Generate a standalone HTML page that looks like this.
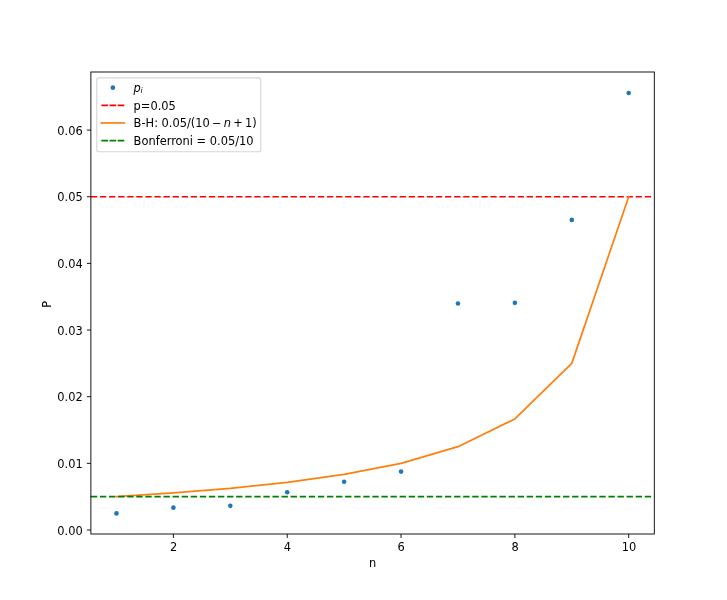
<!DOCTYPE html>
<html lang="en"><head><meta charset="utf-8"><title>p-values: B-H vs Bonferroni</title>
<style>html,body{margin:0;padding:0;background:#fff}svg{display:block}text{font-family:'DejaVu Sans','Liberation Sans',sans-serif;font-size:11.42px;fill:#000}.i{font-style:oblique}</style></head><body>
<svg width="727" height="600" viewBox="0 0 727 600">
<rect x="0" y="0" width="727" height="600" fill="#fff"/>
<path d="M173.40 534.00 v4.00" stroke="#000" stroke-width="0.91"/>
<text x="173.60" y="550.86" text-anchor="middle">2</text>
<path d="M287.22 534.00 v4.00" stroke="#000" stroke-width="0.91"/>
<text x="287.42" y="550.86" text-anchor="middle">4</text>
<path d="M401.04 534.00 v4.00" stroke="#000" stroke-width="0.91"/>
<text x="401.24" y="550.86" text-anchor="middle">6</text>
<path d="M514.87 534.00 v4.00" stroke="#000" stroke-width="0.91"/>
<text x="515.07" y="550.86" text-anchor="middle">8</text>
<path d="M628.69 534.00 v4.00" stroke="#000" stroke-width="0.91"/>
<text x="628.89" y="550.86" text-anchor="middle">10</text>
<text x="372.59" y="566.66" text-anchor="middle">n</text>
<path d="M90.88 530.00 h-4.00" stroke="#000" stroke-width="0.91"/>
<text x="82.78" y="534.50" text-anchor="end">0.00</text>
<path d="M90.88 463.35 h-4.00" stroke="#000" stroke-width="0.91"/>
<text x="82.78" y="467.85" text-anchor="end">0.01</text>
<path d="M90.88 396.70 h-4.00" stroke="#000" stroke-width="0.91"/>
<text x="82.78" y="401.20" text-anchor="end">0.02</text>
<path d="M90.88 330.05 h-4.00" stroke="#000" stroke-width="0.91"/>
<text x="82.78" y="334.55" text-anchor="end">0.03</text>
<path d="M90.88 263.40 h-4.00" stroke="#000" stroke-width="0.91"/>
<text x="82.78" y="267.90" text-anchor="end">0.04</text>
<path d="M90.88 196.75 h-4.00" stroke="#000" stroke-width="0.91"/>
<text x="82.78" y="201.25" text-anchor="end">0.05</text>
<path d="M90.88 130.10 h-4.00" stroke="#000" stroke-width="0.91"/>
<text x="82.78" y="134.60" text-anchor="end">0.06</text>
<text x="51.20" y="304.27" text-anchor="middle" transform="rotate(-90 51.20 304.27)">P</text>
<circle cx="116.49" cy="513.40" r="2.30" fill="#1f77b4"/>
<circle cx="173.40" cy="507.67" r="2.30" fill="#1f77b4"/>
<circle cx="230.31" cy="505.87" r="2.30" fill="#1f77b4"/>
<circle cx="287.22" cy="492.21" r="2.30" fill="#1f77b4"/>
<circle cx="344.13" cy="481.81" r="2.30" fill="#1f77b4"/>
<circle cx="401.04" cy="471.61" r="2.30" fill="#1f77b4"/>
<circle cx="457.95" cy="303.52" r="2.30" fill="#1f77b4"/>
<circle cx="514.87" cy="302.86" r="2.30" fill="#1f77b4"/>
<circle cx="571.78" cy="219.88" r="2.30" fill="#1f77b4"/>
<circle cx="628.69" cy="92.98" r="2.30" fill="#1f77b4"/>
<path d="M90.88 196.75 H653.10" fill="none" stroke="#f00" stroke-width="1.71" stroke-dasharray="6.34 2.74"/>
<path d="M116.49 496.68 L173.40 492.97 L230.31 488.34 L287.22 482.39 L344.13 474.46 L401.04 463.35 L457.95 446.69 L514.87 418.92 L571.78 363.38 L628.69 196.75" fill="none" stroke="#ff7f0e" stroke-width="1.71" stroke-linecap="square" stroke-linejoin="round"/>
<path d="M90.88 496.68 H653.10" fill="none" stroke="#008000" stroke-width="1.71" stroke-dasharray="6.34 2.74"/>
<rect x="90.88" y="72.00" width="563.43" height="462.00" fill="none" stroke="#000" stroke-width="0.91"/>
<rect x="96.75" y="77.90" width="164.00" height="73.80" rx="2.28" fill="#fff" fill-opacity="0.8" stroke="#ccc" stroke-opacity="0.8" stroke-width="1.14"/>
<circle cx="112.87" cy="87.67" r="2.30" fill="#1f77b4"/>
<text x="133.61" y="91.60"><tspan class="i">p</tspan><tspan class="i" dx="-0.4" dy="1.45" font-size="7.99">i</tspan></text>
<path d="M101.37 105.31 h23.00" fill="none" stroke="#f00" stroke-width="1.71" stroke-dasharray="6.64 1.5"/>
<text x="133.61" y="109.93">p=0.05</text>
<path d="M101.37 122.95 h23.00" fill="none" stroke="#ff7f0e" stroke-width="1.71" stroke-linecap="square"/>
<text y="127.10"><tspan x="133.61">B-H: 0.05/(10</tspan><tspan x="211.94">−</tspan><tspan x="223.67" class="i">n</tspan><tspan x="233.31">+</tspan><tspan x="245.10">1)</tspan></text>
<path d="M101.37 140.59 h23.00" fill="none" stroke="#008000" stroke-width="1.71" stroke-dasharray="6.64 1.5"/>
<text x="133.61" y="145.05">Bonferroni = 0.05/10</text>
</svg></body></html>
